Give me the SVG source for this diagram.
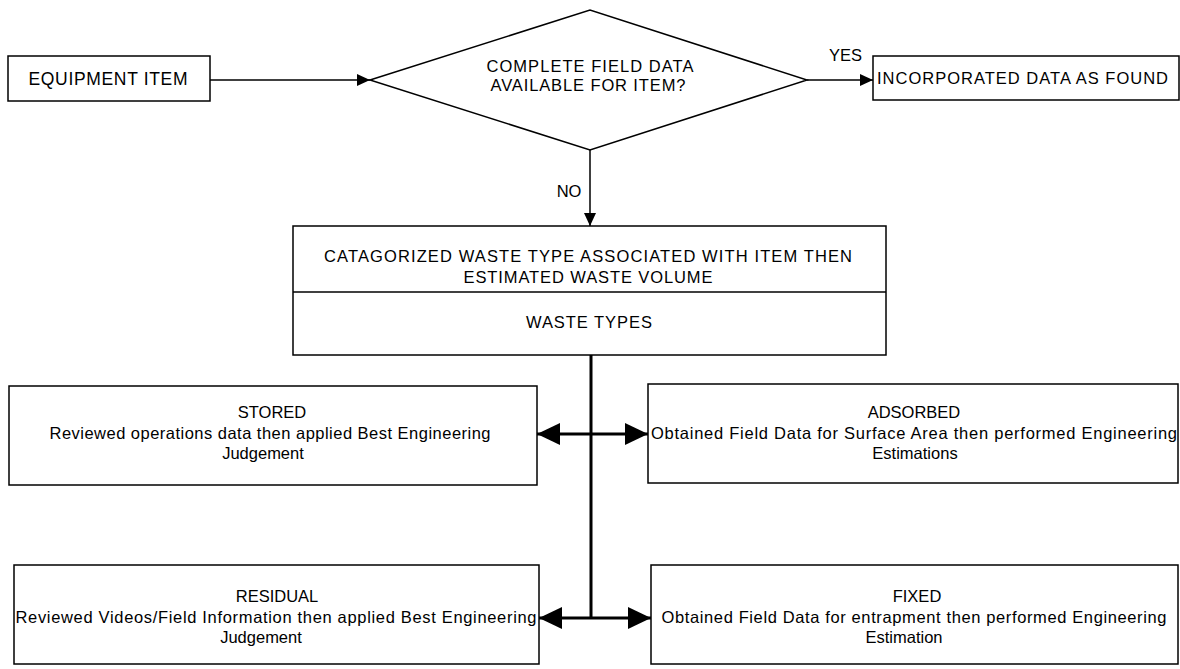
<svg xmlns="http://www.w3.org/2000/svg" width="1180" height="669" viewBox="0 0 1180 669">
<style>
.box{fill:#fff;stroke:#000;stroke-width:1.5}
.t{font-family:"Liberation Sans",Arial,sans-serif;font-size:16.5px;fill:#000;text-anchor:middle}
.thin{stroke:#000;stroke-width:1.5;fill:none}
.thick{stroke:#000;stroke-width:3;fill:none}
</style>
<defs>
<marker id="ah" markerUnits="userSpaceOnUse" markerWidth="14" markerHeight="12" refX="13" refY="6" orient="auto-start-reverse">
<path d="M0,0 L13,6 L0,12 Z" fill="#000"/>
</marker>
<marker id="ahb" markerUnits="userSpaceOnUse" markerWidth="24" markerHeight="22" refX="23" refY="11" orient="auto-start-reverse">
<path d="M0,0 L23,11 L0,22 Z" fill="#000"/>
</marker>
</defs>
<rect width="1180" height="669" fill="#fff"/>
<g id="connectors">
<line class="thin" x1="210" y1="80" x2="370" y2="80" marker-end="url(#ah)"/>
<line class="thin" x1="807" y1="80" x2="873" y2="80" marker-end="url(#ah)"/>
<line class="thin" x1="590" y1="150" x2="590" y2="226" marker-end="url(#ah)"/>
<line class="thick" x1="591" y1="355" x2="591" y2="618"/>
<line class="thick" x1="537" y1="434" x2="648" y2="434" marker-start="url(#ahb)" marker-end="url(#ahb)"/>
<line class="thick" x1="539" y1="618" x2="651" y2="618" marker-start="url(#ahb)" marker-end="url(#ahb)"/>
<text class="t" x="862" y="61" style="text-anchor:end">YES</text>
<text class="t" x="569" y="197">NO</text>
</g>
<g id="equipment">
<rect class="box" x="8" y="56" width="202" height="45"/>
<text class="t" x="108" y="85" textLength="159" style="font-size:17.5px">EQUIPMENT  ITEM</text>
</g>
<g id="decision">
<polygon class="box" points="370,80 590,10 807,80 590,150"/>
<text class="t" x="590" y="72" textLength="207">COMPLETE FIELD DATA</text>
<text class="t" x="588" y="91" textLength="195">AVAILABLE FOR ITEM?</text>
</g>
<g id="incorporated">
<rect class="box" x="873" y="56" width="306" height="44"/>
<text class="t" x="877" y="84" textLength="291" style="text-anchor:start">INCORPORATED DATA  AS FOUND</text>
</g>
<g id="categorize">
<rect class="box" x="293" y="226" width="593" height="129"/>
<line class="thin" x1="293" y1="292" x2="886" y2="292"/>
<text class="t" x="588" y="262" textLength="528">CATAGORIZED WASTE TYPE ASSOCIATED WITH  ITEM THEN</text>
<text class="t" x="588" y="283" textLength="249">ESTIMATED WASTE VOLUME</text>
<text class="t" x="589" y="328" textLength="126">WASTE TYPES</text>
</g>
<g id="stored">
<rect class="box" x="9" y="386" width="528" height="99"/>
<text class="t" x="272" y="418">STORED</text>
<text class="t" x="270" y="439" textLength="441">Reviewed operations data then applied Best Engineering</text>
<text class="t" x="263" y="459">Judgement</text>
</g>
<g id="adsorbed">
<rect class="box" x="648" y="384" width="530" height="99"/>
<text class="t" x="914" y="418">ADSORBED</text>
<text class="t" x="914" y="439" textLength="526">Obtained Field Data for Surface Area then performed  Engineering</text>
<text class="t" x="915" y="459">Estimations</text>
</g>
<g id="residual">
<rect class="box" x="14" y="565" width="525" height="99"/>
<text class="t" x="277" y="602">RESIDUAL</text>
<text class="t" x="276" y="623" textLength="521">Reviewed Videos/Field Information then applied Best Engineering</text>
<text class="t" x="261" y="643">Judgement</text>
</g>
<g id="fixed">
<rect class="box" x="651" y="565" width="527" height="99"/>
<text class="t" x="917" y="602">FIXED</text>
<text class="t" x="914" y="623" textLength="505">Obtained Field Data for entrapment then performed Engineering</text>
<text class="t" x="904" y="643">Estimation</text>
</g>
</svg>
